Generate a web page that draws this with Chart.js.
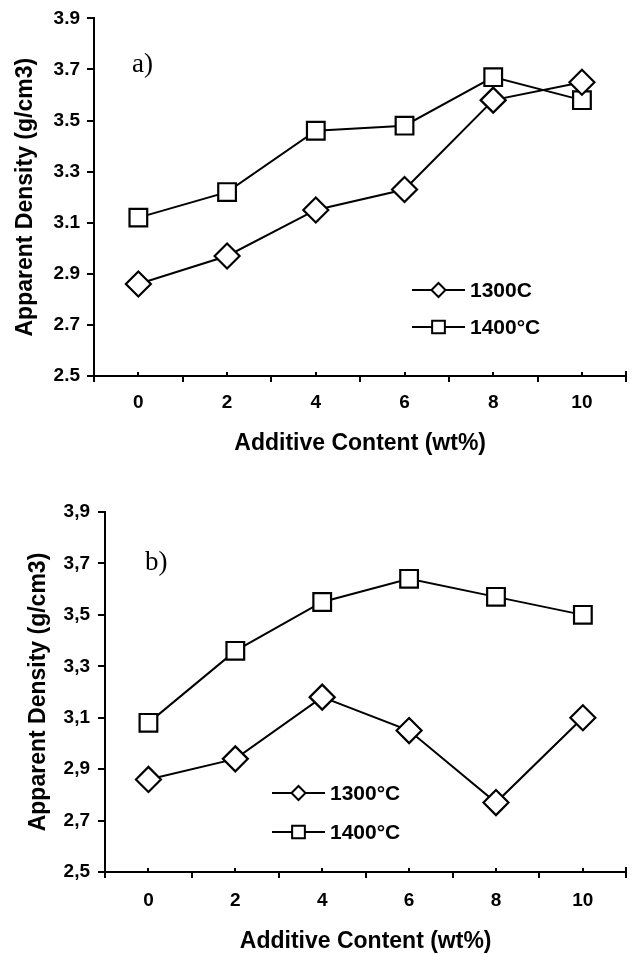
<!DOCTYPE html>
<html><head><meta charset="utf-8">
<script src="https://cdn.jsdelivr.net/npm/chart.js@4.4.1/dist/chart.umd.min.js"></script>
<style>
html,body{margin:0;padding:0;background:#fff;width:641px;height:955px;overflow:hidden}
#wa{position:absolute;left:0;top:0;width:641px;height:470px}
#wb{position:absolute;left:0;top:480px;width:641px;height:475px}
</style></head><body>
<div id="wa"><canvas id="ca"></canvas></div>
<div id="wb"><canvas id="cb"></canvas></div>
<script>
// ---- data ----
const xValues = [0, 2, 4, 6, 8, 10];
const xTickLabels = ['0', '2', '4', '6', '8', '10'];
const xMajorTicks = [-1, 1, 3, 5, 7, 9, 11];
const yTickValues = [2.5, 2.7, 2.9, 3.1, 3.3, 3.5, 3.7, 3.9];
const yTickLabelsA = ['2.5', '2.7', '2.9', '3.1', '3.3', '3.5', '3.7', '3.9'];
const yTickLabelsB = ['2,5', '2,7', '2,9', '3,1', '3,3', '3,5', '3,7', '3,9'];
const seriesA1300 = [2.86, 2.97, 3.15, 3.23, 3.58, 3.65];
const seriesA1400 = [3.12, 3.22, 3.46, 3.48, 3.67, 3.58];
const seriesB1300 = [2.86, 2.94, 3.18, 3.05, 2.77, 3.10];
const seriesB1400 = [3.08, 3.36, 3.55, 3.64, 3.57, 3.50];
const legendNamesA = ['1300C', '1400°C'];
const legendNamesB = ['1300°C', '1400°C'];
const panelLabels = ['a)', 'b)'];
const yTitle = 'Apparent Density (g/cm3)';
const xTitle = 'Additive Content (wt%)';

const FONT = '"Liberation Sans", Arial, Helvetica, sans-serif';

function drawMarker(ctx, style, x, y, r) {
  ctx.beginPath();
  if (style === 'rectRot') {
    ctx.moveTo(x - r, y); ctx.lineTo(x, y - r); ctx.lineTo(x + r, y); ctx.lineTo(x, y + r);
  } else {
    const h = r * Math.SQRT1_2;
    ctx.rect(x - h, y - h, 2 * h, 2 * h);
  }
  ctx.closePath();
  ctx.fill(); ctx.stroke();
}

const decor = {
  id: 'decor',
  afterDraw(chart, args, o) {
    const ctx = chart.ctx, xs = chart.scales.x;
    const base = chart.chartArea.bottom;
    ctx.save();
    ctx.strokeStyle = '#000'; ctx.lineWidth = 2;
    ctx.beginPath();
    xMajorTicks.forEach(v => { const p = Math.round(xs.getPixelForValue(v)); ctx.moveTo(p, base); ctx.lineTo(p, base + 6); });
    xValues.forEach(v => { const p = Math.round(xs.getPixelForValue(v)); ctx.moveTo(p, base); ctx.lineTo(p, base - 4); });
    const pr = Math.round(xs.getPixelForValue(xMajorTicks[xMajorTicks.length - 1]));
    ctx.moveTo(pr, base); ctx.lineTo(pr, base - 5);
    ctx.stroke();
    // panel label
    ctx.fillStyle = '#000';
    ctx.font = '27px "Liberation Serif", "Times New Roman", serif';
    ctx.textAlign = 'left'; ctx.textBaseline = 'alphabetic';
    ctx.fillText(o.panel, o.panelX, o.panelY);
    // legend
    chart.data.datasets.forEach((ds, i) => {
      const y = o.legY + i * o.legGap;
      ctx.strokeStyle = '#000'; ctx.lineWidth = 2;
      ctx.beginPath(); ctx.moveTo(o.legX, y); ctx.lineTo(o.legX + o.legLen, y); ctx.stroke();
      ctx.fillStyle = '#fff';
      drawMarker(ctx, ds.pointStyle, o.legX + o.legLen / 2, y, ds.pointStyle === 'rectRot' ? 7 : 9);
      ctx.fillStyle = '#000';
      ctx.font = 'bold 21px ' + FONT;
      ctx.textBaseline = 'middle';
      ctx.fillText(ds.label, o.legTextX, y + 1);
    });
    ctx.restore();
  }
};

function makeChart(id, s1300, s1400, names, yLabels, g) {
  const mk = (name, vals, style) => ({
    label: name,
    data: xValues.map((x, i) => ({ x: x, y: vals[i] })),
    borderColor: '#000', backgroundColor: '#fff', borderWidth: 2,
    pointStyle: style, pointRadius: 12.5, pointHoverRadius: 12.5,
    pointBorderWidth: 2.2, pointBackgroundColor: '#fff', pointBorderColor: '#000',
    tension: 0, fill: false, clip: false
  });
  return new Chart(document.getElementById(id), {
    type: 'line',
    data: { datasets: [mk(names[0], s1300, 'rectRot'), mk(names[1], s1400, 'rect')] },
    options: {
      responsive: true, maintainAspectRatio: false, animation: false, devicePixelRatio: 1,
      layout: { padding: { left: 0, top: g.top, right: g.right, bottom: 0 } },
      plugins: { legend: { display: false }, tooltip: { enabled: false }, decor: g.decor },
      scales: {
        x: {
          type: 'linear', min: -1, max: 11,
          afterBuildTicks: s => { s.ticks = xValues.map(v => ({ value: v })); },
          afterFit: s => { s.height = g.xHeight; },
          ticks: { callback: (v, i) => xTickLabels[i], autoSkip: false, maxRotation: 0, color: '#000',
                   font: { family: FONT, size: 19, weight: 'bold' }, padding: g.xTickPad },
          grid: { display: false, drawTicks: false },
          border: { display: true, color: '#000', width: 2 },
          title: { display: true, text: xTitle, color: '#000', font: { family: FONT, size: 23, weight: 'bold' },
                   padding: { top: 0, bottom: g.xTitlePad } }
        },
        y: {
          type: 'linear', min: 2.5, max: 3.9,
          afterBuildTicks: s => { s.ticks = yTickValues.map(v => ({ value: v })); },
          afterFit: s => { s.width = g.yWidth; },
          ticks: { callback: (v, i) => yLabels[i], autoSkip: false, color: '#000',
                   font: { family: FONT, size: 19, weight: 'bold' }, padding: g.yTickPad },
          grid: { display: true, drawOnChartArea: false, drawTicks: true, tickLength: 7, color: '#000', lineWidth: 2 },
          border: { display: true, color: '#000', width: 2 },
          title: { display: true, text: yTitle, color: '#000', font: { family: FONT, size: 23, weight: 'bold' },
                   padding: { top: g.yTitlePad, bottom: 0 } }
        }
      }
    },
    plugins: [decor]
  });
}

makeChart('ca', seriesA1300, seriesA1400, legendNamesA, yTickLabelsA, {
  top: 17, right: 8, yWidth: 94, xHeight: 94, yTickPad: 7, yTitlePad: 12, xTickPad: 15, xTitlePad: 13,
  decor: { panel: panelLabels[0], panelX: 132, panelY: 72, legX: 412, legLen: 53, legY: 290, legGap: 37, legTextX: 470 }
});
makeChart('cb', seriesB1300, seriesB1400, legendNamesB, yTickLabelsB, {
  top: 32, right: 7, yWidth: 105, xHeight: 83, yTickPad: 8, yTitlePad: 25, xTickPad: 17, xTitlePad: 0,
  decor: { panel: panelLabels[1], panelX: 145, panelY: 90, legX: 272, legLen: 53, legY: 313, legGap: 39, legTextX: 330 }
});
</script>
</body></html>
